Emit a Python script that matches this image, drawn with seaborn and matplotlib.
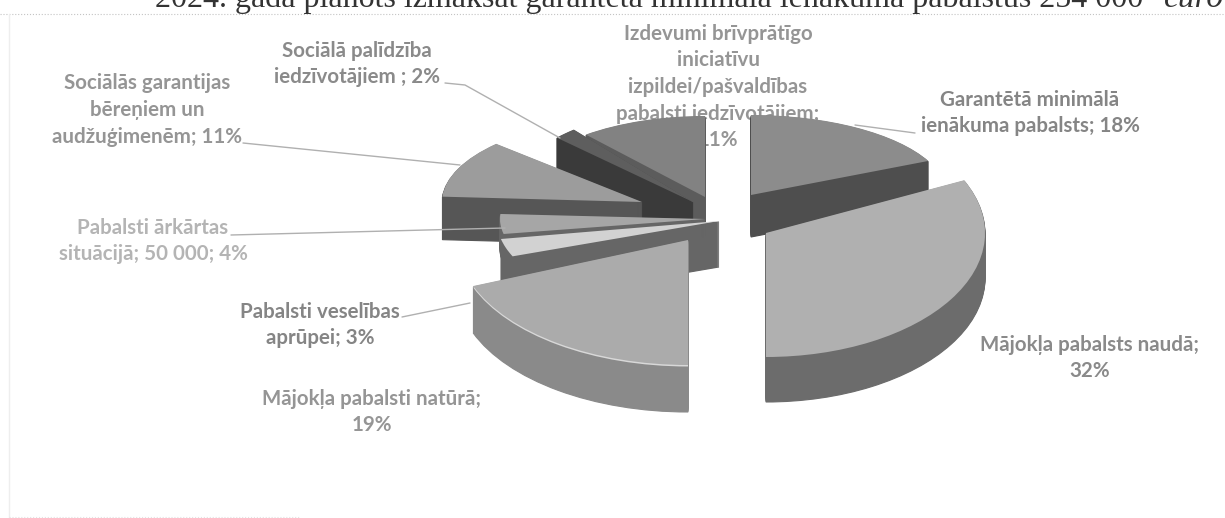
import matplotlib
matplotlib.use("Agg")
import matplotlib.pyplot as plt
from matplotlib.transforms import Affine2D
import seaborn as sns

# clockwise from 12 o'clock, shares in percent
categories = [
    "Garantētā minimālā\nienākuma pabalsts; 18%",
    "Mājokļa pabalsts naudā;\n32%",
    "Mājokļa pabalsti natūrā;\n19%",
    "Pabalsti veselības\naprūpei; 3%",
    "Pabalsti ārkārtas\nsituācijā; 50 000; 4%",
    "Sociālās garantijas\nbēreņiem un\naudžuģimenēm; 11%",
    "Sociālā palīdzība\niedzīvotājiem ; 2%",
    "Izdevumi brīvprātīgo\niniciatīvu\nizpildei/pašvaldības\npabalsti iedzīvotājiem;\n11%",
]
shares = [18, 32, 19, 3, 4, 11, 2, 11]

top_colors = ["#8c8c8c", "#b0b0b0", "#ababab", "#d2d2d2", "#a6a6a6", "#9c9c9c", "#5e5e5e", "#828282"]
side_colors = ["#4e4e4e", "#6c6c6c", "#8a8a8a", "#666666", "#666666", "#565656", "#3a3a3a", "#5c5c5c"]
label_colors = ["#858585", "#8a8a8a", "#959595", "#858585", "#b4b4b4", "#959595", "#8a8a8a", "#959595"]

# exploded perspective pie: apex x, apex y (pixels from top), radius x, radius y, depth
slice_geom = [
    (751, 195, 196, 80, 42),
    (766, 233, 219, 124, 45),
    (688, 240, 231, 125, 47),
    (719, 221, 222, 96, 46),
    (705, 219, 205, 80, 30),
    (642, 202, 200, 85, 43),
    (693, 202, 187, 94, 42),
    (705, 197, 187, 81, 42),
]
draw_order = [7, 0, 6, 5, 4, 3, 2, 1]

label_pos = [(1030, 113), (1090, 358), (372, 412), (320, 325), (153, 241), (147, 110), (357, 64), (718, 87)]
leaders = [
    [(915, 133), (855, 125)],
    [],
    [],
    [(402, 317), (470, 303)],
    [(231, 235), (505, 228)],
    [(243, 143), (460, 165)],
    [(445, 83), (465, 85), (560, 138)],
    [],
]

W, H = 1225, 518

sns.set_theme(style="white")
plt.rcParams["font.family"] = ["Lato", "DejaVu Sans"]

fig = plt.figure(figsize=(W / 100, H / 100), dpi=100)
ax = fig.add_axes([0, 0, 1, 1])


def draw_slice(idx, color, drop, zorder, edge=0.0):
    start = 90 - 3.6 * sum(shares[:idx])
    patches, _ = ax.pie([shares[idx] / 100], normalize=False, startangle=start, counterclock=False,
                        colors=[color], wedgeprops={"linewidth": edge, "edgecolor": color})
    apex_x, apex_y, rx, ry, _ = slice_geom[idx]
    place = Affine2D().scale(rx, ry).translate(apex_x, H - apex_y - drop)
    patches[0].set_transform(place + ax.transData)
    patches[0].set_zorder(zorder)


z = 5
for idx in draw_order:
    depth = slice_geom[idx][4]
    for drop in range(depth, 0, -1):
        draw_slice(idx, side_colors[idx], drop, z, edge=0.8)
    # highlight along the front rim of the natura slice
    if idx == 2:
        draw_slice(idx, "#d8d8d8", 1.5, z)
    draw_slice(idx, top_colors[idx], 0, z + 1)
    z += 2

ax.set_aspect("auto")
ax.set_xlim(0, W)
ax.set_ylim(0, H)
ax.axis("off")

for label, (x, y), color in zip(categories, label_pos, label_colors):
    ax.text(x, H - y, label, color=color, fontsize=14.8, fontweight="bold", ha="center", va="center",
            linespacing=1.42, zorder=1)

for line in leaders:
    if line:
        ax.plot([p[0] for p in line], [H - p[1] for p in line], color="#b0b0b0", lw=1, zorder=50)

# the page text above the chart and the chart frame, cut off by the scan
ax.text(155, H - 7, "2024. gada plānots izmaksāt garantētā minimālā ienākuma pabalstus 254 000",
        family="Liberation Serif", fontsize=23, color="#333333", va="baseline", zorder=60)
ax.text(1164, H - 7, "euro", family="Liberation Serif", style="italic", fontsize=24, color="#333333",
        va="baseline", zorder=60)
ax.plot([0, W], [H - 14, H - 14], color="#c4c4c4", lw=0.8, ls=":", zorder=1)
ax.plot([9, 9], [H - 14, 0], color="#eeeeee", lw=1, zorder=1)
ax.plot([9, 300], [1, 1], color="#e4e4e4", lw=0.8, ls=":", zorder=1)

fig.savefig("out.png", dpi=100)
